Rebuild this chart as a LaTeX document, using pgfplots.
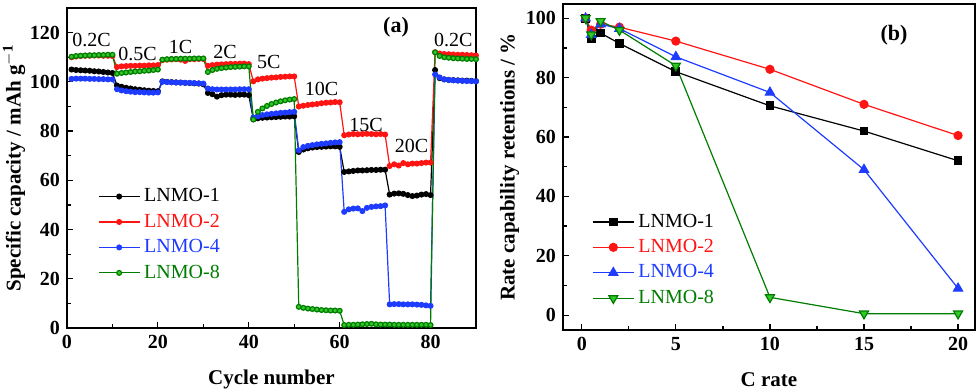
\documentclass[border=0pt]{standalone}
\usepackage{pgfplots}
\usepackage{pgfplotstable}
\pgfplotsset{compat=1.18}
\usepackage{fontspec}
\setmainfont{Liberation Serif}

\definecolor{cblk}{RGB}{0,0,0}
\definecolor{cred}{RGB}{255,20,20}
\definecolor{cblue}{RGB}{30,60,255}
\definecolor{cgrn}{RGB}{0,125,0}
\definecolor{cgrnf}{RGB}{50,200,40}

% cycle  LNMO-1  LNMO-2  LNMO-4  LNMO-8
\pgfplotstableread{
c  a      b      d      e
1  105.0  110.0  101.2  110.2
2  104.8  110.3  101.3  110.5
3  104.7  110.5  101.3  110.6
4  104.6  110.6  101.3  110.7
5  104.5  110.6  101.2  110.8
6  104.3  110.7  101.2  110.8
7  104.2  110.7  101.1  110.9
8  104.0  110.6  101.1  110.9
9  103.8  110.6  101.0  111.0
10 103.6  110.5  101.0  111.0
11 98.5   106.0  97.0   103.3
12 98.0   106.3  96.5   103.6
13 97.6   106.4  96.2   103.8
14 97.3   106.5  96.0   104.0
15 97.0   106.5  95.8   104.2
16 96.8   106.6  95.8   104.3
17 96.6   106.6  95.7   104.5
18 96.4   106.7  95.6   104.6
19 96.3   106.7  95.6   104.8
20 96.2   106.8  95.7   105.0
21 100.2  108.8  100.0  109.0
22 100.0  109.0  99.9   109.2
23 99.9   109.1  99.8   109.3
24 99.8   109.2  99.7   109.3
25 99.7   109.0  99.7   109.4
26 99.6   108.5  99.6   109.4
27 99.5   109.2  99.6   109.4
28 99.4   109.2  99.5   109.5
29 99.3   109.3  99.4   109.5
30 99.0   109.3  99.3   109.5
31 95.5   106.5  97.3   104.0
32 95.0   106.8  97.0   104.8
33 94.0   107.0  96.9   105.3
34 94.6   107.1  96.9   105.6
35 94.8   107.2  96.9   105.8
36 94.8   107.3  96.9   106.0
37 94.7   107.3  96.9   106.1
38 94.8   107.4  97.0   106.2
39 94.8   107.4  97.0   106.3
40 94.6   107.2  97.0   106.3
41 84.8   100.2  85.5   84.7
42 85.2   101.0  86.0   87.8
43 85.4   101.3  86.5   89.2
44 85.5   101.5  86.8   90.2
45 85.6   101.7  87.0   91.0
46 85.7   101.8  87.2   91.6
47 85.8   102.0  87.4   92.1
48 85.9   102.1  87.5   92.5
49 85.9   102.2  87.7   92.8
50 86.0   102.2  87.8   93.0
51 71.5   90.0   72.2   8.6
52 72.5   90.3   73.5   8.2
53 73.0   90.6   74.0   7.9
54 73.3   90.8   74.3   7.7
55 73.5   91.0   74.6   7.5
56 73.6   91.3   74.8   7.3
57 73.7   91.5   75.0   7.2
58 73.8   91.6   75.2   7.1
59 73.8   91.8   75.4   7.1
60 73.6   91.7   75.5   7.0
61 63.4   78.3   47.2   1.2
62 63.6   78.6   48.2   1.3
63 63.8   78.8   48.5   1.3
64 64.0   78.7   48.6   1.4
65 64.0   78.8   47.5   1.5
66 64.1   78.9   48.8   1.6
67 64.2   78.8   49.2   1.7
68 64.2   78.7   49.4   1.5
69 64.3   78.8   49.5   1.4
70 64.3   78.6   49.8   1.4
71 54.2   65.8   9.6    1.4
72 54.6   66.5   9.7    1.3
73 54.7   66.0   9.7    1.3
74 54.5   67.0   9.6    1.3
75 54.0   66.5   9.6    1.3
76 53.6   66.8   9.6    1.3
77 53.8   66.8   9.5    1.3
78 54.2   67.0   9.4    1.3
79 54.4   67.2   9.2    1.3
80 54.0   67.2   9.0    1.2
81 104.8  112.0  103.0  112.0
82 101.5  111.5  101.8  110.5
83 101.0  111.3  101.0  110.0
84 100.8  111.2  100.8  109.8
85 100.7  111.1  100.6  109.6
86 100.6  111.0  100.5  109.5
87 100.5  111.0  100.4  109.4
88 100.5  110.9  100.3  109.3
89 100.4  110.8  100.3  109.3
90 100.3  110.7  100.2  109.2
}\capdata

% C rate  LNMO-1  LNMO-2  LNMO-4  LNMO-8
\pgfplotstableread{
r    a     b     d     e
0.2  100.0 100.0 100.0 100.0
0.5  93.0  96.0  94.5  94.5
1    95.0  98.0  98.0  99.0
2    91.5  97.0  96.5  96.0
5    82.0  92.3  87.0  84.0
10   70.5  82.8  75.0  6.0
15   62.0  71.0  49.0  0.5
20   52.0  60.5  9.0   0.5
}\retdata

\pgfplotsset{
  panel/.style={
    scale only axis,
    anchor=south west,
    axis line style={line width=1.1pt},
    tick align=inside,
    xtick pos=bottom, ytick pos=left,
    minor tick num=1,
    major tick length=3pt, minor tick length=1.8pt,
    every tick/.style={black, line width=0.6pt},
    /pgf/number format/assume math mode=true,
    tick label style={font=\fontsize{10}{12}\selectfont\bfseries},
    label style={font=\fontsize{10.5}{12}\selectfont\bfseries},
    legend style={draw=none, fill=none, font=\fontsize{10}{12}\selectfont,
      row sep=0.6pt, inner sep=0pt},
    legend cell align=left,
    legend image code/.code={
      \draw[mark repeat=2,mark phase=2] plot coordinates {(0cm,0cm) (0.36cm,0cm) (0.72cm,0cm)};},
  },
}

\begin{document}
\begin{tikzpicture}
\path[use as bounding box] (0,0) rectangle (490pt,195pt);

\begin{axis}[panel,
  at={(33.5pt,31pt)},
  width=204.5pt, height=160pt,
  xmin=0, xmax=90, ymin=0, ymax=130,
  xtick={0,20,40,60,80}, ytick={0,20,...,120},
  xlabel={Cycle number},
  ylabel={Specific capacity / mAh g$^{\mathbf{-1}}$},
  xlabel style={yshift=-4pt},
  ylabel style={yshift=-4.5pt},
  legend style={at={(0.075,0.45)}, anchor=north west},
  every axis plot/.append style={line width=0.6pt, mark size=1.2pt},
]
\addplot[cblk, mark=*] table[x=c, y=a] {\capdata};
\addlegendentry{\textcolor{cblk}{LNMO-1}}
\addplot[cred, mark=*] table[x=c, y=b] {\capdata};
\addlegendentry{\textcolor{cred}{LNMO-2}}
\addplot[cblue, mark=*] table[x=c, y=d] {\capdata};
\addlegendentry{\textcolor{cblue}{LNMO-4}}
\addplot[cgrn, mark=*, mark options={fill=cgrnf, draw=cgrn}] table[x=c, y=e] {\capdata};
\addlegendentry{\textcolor{cgrn}{LNMO-8}}

\begin{scope}[every node/.style={font=\fontsize{10}{12}\selectfont}]
\node at (axis cs:5.4,117) {0.2C};
\node at (axis cs:15.5,111.5) {0.5C};
\node at (axis cs:25,114) {1C};
\node at (axis cs:34.8,112) {2C};
\node at (axis cs:44.4,108) {5C};
\node at (axis cs:56,97) {10C};
\node at (axis cs:65.8,82.3) {15C};
\node at (axis cs:75.8,74) {20C};
\node at (axis cs:85,117) {0.2C};
\node[font=\fontsize{11}{12}\selectfont\bfseries] at (axis cs:72.4,122) {(a)};
\end{scope}
\end{axis}

\begin{axis}[panel,
  at={(281.5pt,30pt)},
  width=206pt, height=163pt,
  xmin=-1, xmax=20.9, ymin=-5, ymax=104.8,
  xtick={0,5,10,15,20}, ytick={0,20,...,100},
  xlabel={C rate},
  ylabel={Rate capability retentions / \%},
  xlabel style={yshift=-4pt},
  ylabel style={yshift=-3.5pt},
  legend style={at={(0.07,0.37)}, anchor=north west},
  every axis plot/.append style={line width=0.6pt, mark size=2.3pt},
]
\addplot[cblk, mark=square*, mark size=1.9pt] table[x=r, y=a] {\retdata};
\addlegendentry{\textcolor{cblk}{LNMO-1}}
\addplot[cred, mark=*, mark size=2pt] table[x=r, y=b] {\retdata};
\addlegendentry{\textcolor{cred}{LNMO-2}}
\addplot[cblue, mark=triangle*, mark size=2.6pt] table[x=r, y=d] {\retdata};
\addlegendentry{\textcolor{cblue}{LNMO-4}}
\addplot[cgrn, mark=triangle*, mark size=2.6pt, mark options={rotate=180, fill=cgrnf, draw=cgrn}] table[x=r, y=e] {\retdata};
\addlegendentry{\textcolor{cgrn}{LNMO-8}}
\node[font=\fontsize{11}{12}\selectfont\bfseries] at (axis cs:16.6,94.4) {(b)};
\end{axis}
\end{tikzpicture}
\end{document}
